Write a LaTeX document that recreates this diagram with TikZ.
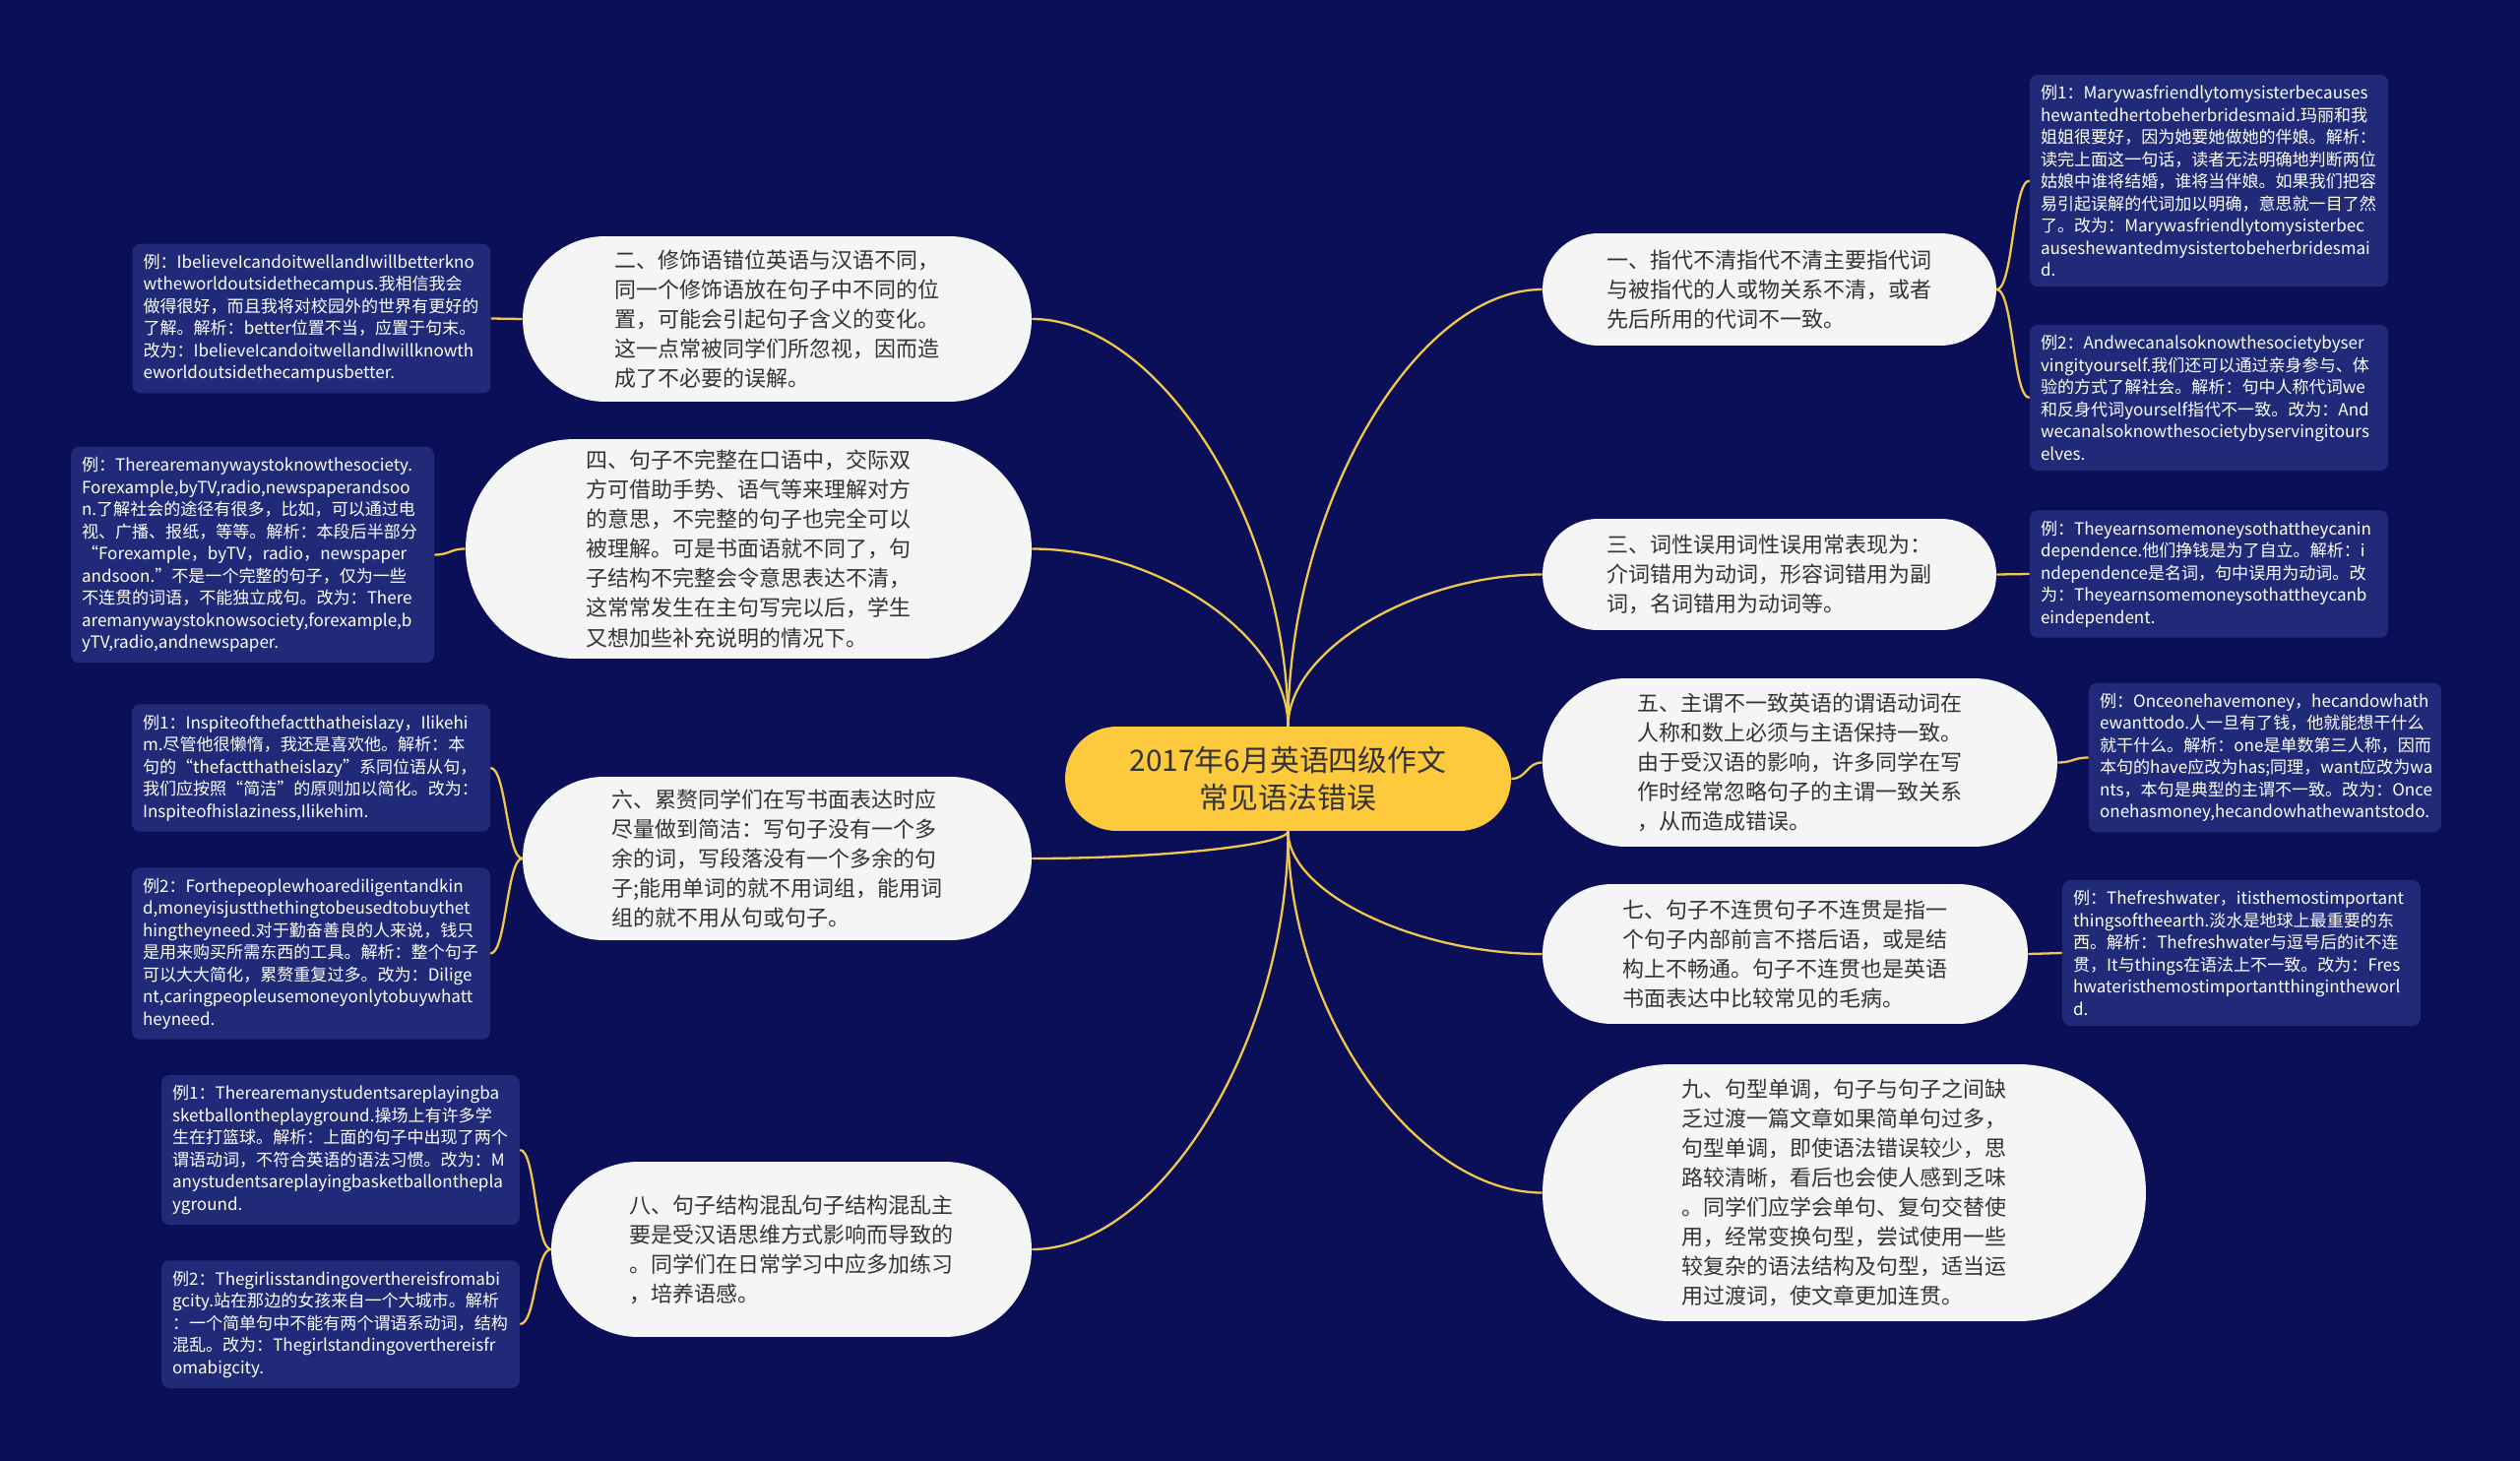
\documentclass[tikz,border=0pt]{standalone}
\usepackage{fontspec}
\setmainfont{Noto Sans CJK SC}
\usepackage{tikz}
\usetikzlibrary{calc}

\definecolor{mapbg}{RGB}{10,15,88}
\definecolor{rootfill}{RGB}{253,201,61}
\definecolor{topicfill}{RGB}{245,245,245}
\definecolor{leaffill}{RGB}{32,42,120}
\definecolor{linkcol}{RGB}{242,200,76}
\definecolor{inkgray}{RGB}{51,51,51}

\begin{document}
\begin{tikzpicture}[x=0.02cm,y=-0.02cm,
  root/.style={fill=rootfill, text=inkgray, align=center, font=\fontsize{17}{22}\selectfont, minimum width=9.06cm, minimum height=2.12cm, rounded corners=1.05cm},
  topic/.style={fill=topicfill, text=inkgray, align=left, font=\fontsize{12.5}{17.1}\selectfont},
  leaf/.style={fill=leaffill, text=white, align=left, text width=6.84cm, inner xsep=0.22cm, inner ysep=0.21cm, rounded corners=0.16cm, font=\fontsize{9.7}{12.8}\selectfont},
  link/.style={draw=linkcol, line width=1.3pt},
  curl/.style={to path={let \p1=(\tikztostart), \p2=(\tikztotarget), \p3=($(\p1)!0.5!(\p2)$) in .. controls (\x1,\y3) and (\x3,\y2) .. (\tikztotarget)}}]
\path[use as bounding box, fill=mapbg] (0,0) rectangle (2560,1484);

\node[root] (root) at (1308.5,791) {2017年6月英语四级作文\\常见语法错误};

\node[topic, minimum width=9.22cm, minimum height=2.28cm, rounded corners=1.13cm] (n1) at (1797.5,294) {一、指代不清指代不清主要指代词\\与被指代的人或物关系不清，或者\\先后所用的代词不一致。};
\node[topic, minimum width=10.34cm, minimum height=3.36cm, rounded corners=1.67cm] (n2) at (789.5,324) {二、修饰语错位英语与汉语不同，\\同一个修饰语放在句子中不同的位\\置，可能会引起句子含义的变化。\\这一点常被同学们所忽视，因而造\\成了不必要的误解。};
\node[topic, minimum width=9.22cm, minimum height=2.26cm, rounded corners=1.12cm] (n3) at (1797.5,583.5) {三、词性误用词性误用常表现为：\\介词错用为动词，形容词错用为副\\词，名词错用为动词等。};
\node[topic, minimum width=11.5cm, minimum height=4.46cm, rounded corners=2.22cm] (n4) at (760.5,557.5) {四、句子不完整在口语中，交际双\\方可借助手势、语气等来理解对方\\的意思，不完整的句子也完全可以\\被理解。可是书面语就不同了，句\\子结构不完整会令意思表达不清，\\这常常发生在主句写完以后，学生\\又想加些补充说明的情况下。};
\node[topic, minimum width=10.46cm, minimum height=3.42cm, rounded corners=1.7cm] (n5) at (1828.5,774.5) {五、主谓不一致英语的谓语动词在\\人称和数上必须与主语保持一致。\\由于受汉语的影响，许多同学在写\\作时经常忽略句子的主谓一致关系\\，从而造成错误。};
\node[topic, minimum width=10.34cm, minimum height=3.32cm, rounded corners=1.65cm] (n6) at (789.5,872) {六、累赘同学们在写书面表达时应\\尽量做到简洁：写句子没有一个多\\余的词，写段落没有一个多余的句\\子;能用单词的就不用词组，能用词\\组的就不用从句或句子。};
\node[topic, minimum width=9.86cm, minimum height=2.84cm, rounded corners=1.41cm] (n7) at (1813.5,969) {七、句子不连贯句子不连贯是指一\\个句子内部前言不搭后语，或是结\\构上不畅通。句子不连贯也是英语\\书面表达中比较常见的毛病。};
\node[topic, minimum width=9.76cm, minimum height=3.56cm, rounded corners=1.77cm] (n8) at (804,1269) {八、句子结构混乱句子结构混乱主\\要是受汉语思维方式影响而导致的\\。同学们在日常学习中应多加练习\\，培养语感。};
\node[topic, minimum width=12.26cm, minimum height=5.22cm, rounded corners=2.6cm] (n9) at (1873.5,1211.5) {九、句型单调，句子与句子之间缺\\乏过渡一篇文章如果简单句过多，\\句型单调，即使语法错误较少，思\\路较清晰，看后也会使人感到乏味\\。同学们应学会单句、复句交替使\\用，经常变换句型，尝试使用一些\\较复杂的语法结构及句型，适当运\\用过渡词，使文章更加连贯。};

\node[leaf] (n1a) at (2244,183.5) {例1：Marywasfriendlytomysisterbecauses\\hewantedhertobeherbridesmaid.玛丽和我\\姐姐很要好，因为她要她做她的伴娘。解析：\\读完上面这一句话，读者无法明确地判断两位\\姑娘中谁将结婚，谁将当伴娘。如果我们把容\\易引起误解的代词加以明确，意思就一目了然\\了。改为：Marywasfriendlytomysisterbec\\auseshewantedmysistertobeherbridesmai\\d.};
\node[leaf] (n1b) at (2244,404) {例2：Andwecanalsoknowthesocietybyser\\vingityourself.我们还可以通过亲身参与、体\\验的方式了解社会。解析：句中人称代词we\\和反身代词yourself指代不一致。改为：And\\wecanalsoknowthesocietybyservingitours\\elves.};
\node[leaf] (n3a) at (2244,583) {例：Theyearnsomemoneysothattheycanin\\dependence.他们挣钱是为了自立。解析：i\\ndependence是名词，句中误用为动词。改\\为：Theyearnsomemoneysothattheycanb\\eindependent.};
\node[leaf, text width=6.72cm] (n5a) at (2301,769.5) {例：Onceonehavemoney，hecandowhath\\ewanttodo.人一旦有了钱，他就能想干什么\\就干什么。解析：one是单数第三人称，因而\\本句的have应改为has;同理，want应改为wa\\nts，本句是典型的主谓不一致。改为：Once\\onehasmoney,hecandowhathewantstodo.};
\node[leaf] (n7a) at (2277,968) {例：Thefreshwater，itisthemostimportant\\thingsoftheearth.淡水是地球上最重要的东\\西。解析：Thefreshwater与逗号后的it不连\\贯，It与things在语法上不一致。改为：Fres\\hwateristhemostimportantthingintheworl\\d.};
\node[leaf] (n2a) at (316.5,323.5) {例：IbelieveIcandoitwellandIwillbetterkno\\wtheworldoutsidethecampus.我相信我会\\做得很好，而且我将对校园外的世界有更好的\\了解。解析：better位置不当，应置于句末。\\改为：IbelieveIcandoitwellandIwillknowth\\eworldoutsidethecampusbetter.};
\node[leaf, text width=6.94cm] (n4a) at (256.5,563.5) {例：Therearemanywaystoknowthesociety.\\Forexample,byTV,radio,newspaperandsoo\\n.了解社会的途径有很多，比如，可以通过电\\视、广播、报纸，等等。解析：本段后半部分\\“Forexample，byTV，radio，newspaper\\andsoon.”不是一个完整的句子，仅为一些\\不连贯的词语，不能独立成句。改为：There\\aremanywaystoknowsociety,forexample,b\\yTV,radio,andnewspaper.};
\node[leaf] (n6a) at (316,780) {例1：Inspiteofthefactthatheislazy，Ilikehi\\m.尽管他很懒惰，我还是喜欢他。解析：本\\句的“thefactthatheislazy”系同位语从句，\\我们应按照“简洁”的原则加以简化。改为：\\Inspiteofhislaziness,Ilikehim.};
\node[leaf] (n6b) at (316,968.5) {例2：Forthepeoplewhoarediligentandkin\\d,moneyisjustthethingtobeusedtobuythet\\hingtheyneed.对于勤奋善良的人来说，钱只\\是用来购买所需东西的工具。解析：整个句子\\可以大大简化，累赘重复过多。改为：Dilige\\nt,caringpeopleusemoneyonlytobuywhatt\\heyneed.};
\node[leaf] (n8a) at (346,1168) {例1：Therearemanystudentsareplayingba\\sketballontheplayground.操场上有许多学\\生在打篮球。解析：上面的句子中出现了两个\\谓语动词，不符合英语的语法习惯。改为：M\\anystudentsareplayingbasketballonthepla\\yground.};
\node[leaf] (n8b) at (346,1345) {例2：Thegirlisstandingoverthereisfromabi\\gcity.站在那边的女孩来自一个大城市。解析\\：一个简单句中不能有两个谓语系动词，结构\\混乱。改为：Thegirlstandingoverthereisfr\\omabigcity.};

\draw[link] (root.north) to[curl] (n1.west);
\draw[link] (root.north) to[curl] (n2.east);
\draw[link] (root.north) to[curl] (n3.west);
\draw[link] (root.north) to[curl] (n4.east);
\draw[link] (root.east) .. controls +(16,0) and +(-16,0) .. (n5.west);
\draw[link] (root.south) to[curl] (n6.east);
\draw[link] (root.south) to[curl] (n7.west);
\draw[link] (root.south) to[curl] (n8.east);
\draw[link] (root.south) to[curl] (n9.west);

\draw[link] (n1.east) .. controls +(17,0) and +(-17,0) .. (n1a.west);
\draw[link] (n1.east) .. controls +(17,0) and +(-17,0) .. (n1b.west);
\draw[link] (n3.east) .. controls +(17,0) and +(-17,0) .. (n3a.west);
\draw[link] (n5.east) .. controls +(16,0) and +(-16,0) .. (n5a.west);
\draw[link] (n7.east) .. controls +(17,0) and +(-17,0) .. (n7a.west);
\draw[link] (n2.west) .. controls +(-16,0) and +(16,0) .. (n2a.east);
\draw[link] (n4.west) .. controls +(-16,0) and +(16,0) .. (n4a.east);
\draw[link] (n6.west) .. controls +(-16,0) and +(16,0) .. (n6a.east);
\draw[link] (n6.west) .. controls +(-16,0) and +(16,0) .. (n6b.east);
\draw[link] (n8.west) .. controls +(-16,0) and +(16,0) .. (n8a.east);
\draw[link] (n8.west) .. controls +(-16,0) and +(16,0) .. (n8b.east);
\end{tikzpicture}
\end{document}
